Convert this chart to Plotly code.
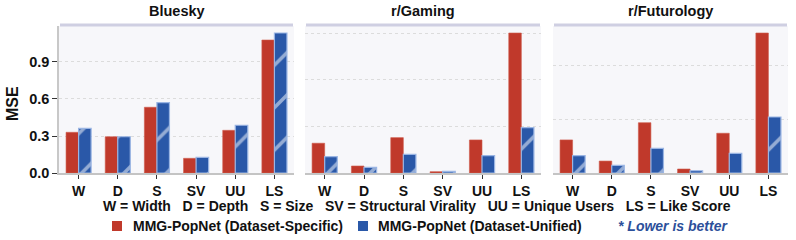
import plotly.graph_objects as go

categories = ["W", "D", "S", "SV", "UU", "LS"]
panels = ["Bluesky", "r/Gaming", "r/Futurology"]

bluesky_specific = [0.330, 0.294, 0.533, 0.119, 0.346, 1.078]
bluesky_unified = [0.362, 0.294, 0.570, 0.127, 0.387, 1.135]
gaming_specific = [0.319, 0.075, 0.379, 0.014, 0.354, 1.500]
gaming_unified = [0.175, 0.061, 0.200, 0.018, 0.186, 0.486]
futurology_specific = [0.307, 0.111, 0.467, 0.037, 0.369, 1.300]
futurology_unified = [0.161, 0.071, 0.229, 0.021, 0.183, 0.520]

grid_steps = [0.3, 0.5, 0.5]
series_names = ["MMG-PopNet (Dataset-Specific)", "MMG-PopNet (Dataset-Unified)"]
abbrev_items = ["W = Width", "D = Depth", "S = Size", "SV = Structural Virality",
                "UU = Unique Users", "LS = Like Score"]
note_text = "* Lower is better"
y_title = "MSE"

RED = "#c0392b"
BLUE = "#2a58a8"
FONT = "Liberation Sans"
W, H = 796, 240

data = [
    (bluesky_specific, bluesky_unified),
    (gaming_specific, gaming_unified),
    (futurology_specific, futurology_unified),
]

x_px = [(59, 294), (305, 541), (553, 788)]
y_top_px, y_bot_px = 26, 173
ydom = [(H - y_bot_px) / H, (H - y_top_px) / H]

fig = go.Figure()
for i, (spec, uni) in enumerate(data):
    sfx = "" if i == 0 else str(i + 1)
    fig.add_trace(go.Bar(
        x=categories, y=spec, name=series_names[0],
        marker=dict(color=RED, line=dict(color="#cf5a4c", width=0.6)),
        xaxis="x" + sfx, yaxis="y" + sfx, showlegend=False,
    ))
    fig.add_trace(go.Bar(
        x=categories, y=uni, name=series_names[1],
        marker=dict(color=BLUE, line=dict(color="#9ab5e3", width=1.2),
                    pattern=dict(shape="/", fgcolor="white", size=30, solidity=0.12)),
        xaxis="x" + sfx, yaxis="y" + sfx, showlegend=False,
    ))

layout = dict(
    width=W, height=H,
    margin=dict(l=0, r=0, t=0, b=0),
    paper_bgcolor="white",
    plot_bgcolor="#f7f7fa",
    barmode="group", bargap=0.36, bargroupgap=0.0,
    font=dict(family=FONT, color="#111111"),
    showlegend=False,
)

shapes = []
annotations = []
for i in range(3):
    sfx = "" if i == 0 else str(i + 1)
    x0, x1 = x_px[i]
    ymax = max(max(data[i][0]), max(data[i][1])) * 1.05
    layout["xaxis" + sfx] = dict(
        domain=[x0 / W, x1 / W], anchor="y" + sfx, automargin=False,
        showline=True, linecolor="#c4c4c4", linewidth=1.5,
        ticks="outside", ticklen=4, tickwidth=1.2, tickcolor="#333333",
        tickfont=dict(family=FONT, size=14, color="#111111", weight="bold"),
        showgrid=False, fixedrange=True,
    )
    yax = dict(
        domain=ydom, anchor="x" + sfx, range=[0, ymax], automargin=False,
        dtick=grid_steps[i], tick0=0,
        showgrid=True, gridcolor="#dcdcdc", griddash="dot", gridwidth=1,
        zeroline=False, fixedrange=True,
    )
    if i == 0:
        yax.update(
            showline=True, linecolor="#c8c8c8", linewidth=1.5,
            ticks="outside", ticklen=5, tickwidth=1.2, tickcolor="#333333",
            tickformat=".1f",
            tickfont=dict(family=FONT, size=14.5, color="#111111", weight="bold"),
        )
    else:
        yax.update(showticklabels=False, ticks="", showline=False)
    layout["yaxis" + sfx] = yax

    shapes.append(dict(type="line", xref="paper", yref="paper",
                       x0=(x0 + 1) / W, x1=(x1 - 1) / W,
                       y0=(H - 25) / H, y1=(H - 25) / H,
                       line=dict(color="#cfcfe2", width=3)))
    annotations.append(dict(text="<b>%s</b>" % panels[i], xref="paper", yref="paper",
                            x=(x0 + x1) / 2 / W, y=(H - 11) / H, showarrow=False,
                            xanchor="center", yanchor="middle",
                            font=dict(family=FONT, size=14.5, color="#111111")))

# y-axis title
annotations.append(dict(text="<b>%s</b>" % y_title, xref="paper", yref="paper",
                        x=12 / W, y=(H - 104) / H, showarrow=False, textangle=-90,
                        xanchor="center", yanchor="middle",
                        font=dict(family=FONT, size=16, color="#111111")))

# abbreviation line
sep = "&nbsp;&nbsp;&nbsp;"
annotations.append(dict(text="<b>%s</b>" % sep.join(abbrev_items),
                        xref="paper", yref="paper", x=417 / W, y=(H - 206) / H,
                        showarrow=False, xanchor="center", yanchor="middle",
                        font=dict(family=FONT, size=14, color="#111111")))

# legend row
leg_y = H - 226
for k, (col, lx, tx) in enumerate([(RED, 112, 131), (BLUE, 358, 376)]):
    shapes.append(dict(type="rect", xref="paper", yref="paper",
                       x0=lx / W, x1=(lx + 10) / W, y0=(leg_y - 5) / H, y1=(leg_y + 5) / H,
                       fillcolor=col, line=dict(width=0)))
    annotations.append(dict(text="<b>%s</b>" % series_names[k], xref="paper", yref="paper",
                            x=tx / W, y=leg_y / H, showarrow=False,
                            xanchor="left", yanchor="middle",
                            font=dict(family=FONT, size=14, color="#111111")))
annotations.append(dict(text="<b><i>%s</i></b>" % note_text, xref="paper", yref="paper",
                        x=616 / W, y=leg_y / H, showarrow=False,
                        xanchor="left", yanchor="middle",
                        font=dict(family=FONT, size=14, color="#2c4f9a")))

layout["shapes"] = shapes
layout["annotations"] = annotations
fig.update_layout(**layout)
fig.write_html("out.html")
